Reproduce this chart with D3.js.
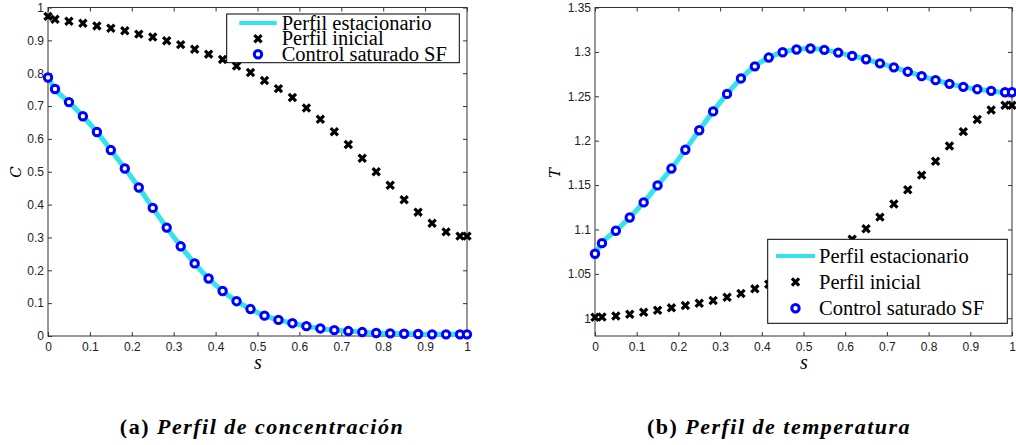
<!DOCTYPE html>
<html>
<head>
<meta charset="utf-8">
<script src="https://cdn.jsdelivr.net/npm/d3@7"></script>
<style>
body{margin:0;background:#fff;}
svg{display:block;}
.tick text{font-family:"Liberation Sans",Arial,sans-serif;font-size:12px;fill:#222;}
.tick line{stroke:#333;}
</style>
</head>
<body>
<svg id="chart" width="1016" height="445"></svg>
<script>
// abscissa s (cell centres plus both ends)
var sValues = [0, 0.0167, 0.05, 0.0833, 0.1167, 0.15, 0.1833, 0.2167, 0.25, 0.2833, 0.3167,
	0.35, 0.3833, 0.4167, 0.45, 0.4833, 0.5167, 0.55, 0.5833, 0.6167, 0.65, 0.6833,
	0.7167, 0.75, 0.7833, 0.8167, 0.85, 0.8833, 0.9167, 0.95, 0.9833, 1];

// concentration C(s)
var cStationary = [0.787, 0.752, 0.712, 0.669, 0.621, 0.566, 0.510, 0.452, 0.390, 0.330, 0.273,
	0.221, 0.175, 0.137, 0.106, 0.082, 0.062, 0.049, 0.039, 0.030, 0.023, 0.018,
	0.015, 0.012, 0.009, 0.008, 0.007, 0.006, 0.005, 0.005, 0.005, 0.005];
var cInitial = [0.973, 0.964, 0.958, 0.952, 0.944, 0.937, 0.929, 0.919, 0.910, 0.899, 0.887,
	0.873, 0.858, 0.842, 0.822, 0.802, 0.778, 0.753, 0.726, 0.694, 0.660, 0.622,
	0.583, 0.541, 0.500, 0.459, 0.415, 0.377, 0.343, 0.317, 0.304, 0.304];

// temperature T(s)
var tStationary = [1.0726, 1.0846, 1.0985, 1.1135, 1.1305, 1.1496, 1.1686, 1.1898, 1.2117, 1.2330, 1.2527,
	1.2701, 1.2837, 1.2936, 1.2996, 1.3027, 1.3038, 1.3023, 1.2992, 1.2955, 1.2917, 1.2871,
	1.2826, 1.2777, 1.2727, 1.2682, 1.2640, 1.2606, 1.2580, 1.2561, 1.2545, 1.2545];
var tInitial = [1.0011, 1.0015, 1.0026, 1.0045, 1.0068, 1.0090, 1.0117, 1.0143, 1.0169, 1.0199, 1.0237,
	1.0278, 1.0331, 1.0383, 1.0450, 1.0520, 1.0600, 1.0690, 1.0790, 1.0891, 1.1008, 1.1139,
	1.1286, 1.1447, 1.1612, 1.1769, 1.1939, 1.2102, 1.2239, 1.2345, 1.2398, 1.2398];

// ticks
var sTicks = [0, 0.1, 0.2, 0.3, 0.4, 0.5, 0.6, 0.7, 0.8, 0.9, 1],
	sTickLabels = ['0','0.1','0.2','0.3','0.4','0.5','0.6','0.7','0.8','0.9','1'];
var cTicks = [0, 0.1, 0.2, 0.3, 0.4, 0.5, 0.6, 0.7, 0.8, 0.9, 1],
	cTickLabels = ['0','0.1','0.2','0.3','0.4','0.5','0.6','0.7','0.8','0.9','1'];
var tTicks = [1, 1.05, 1.1, 1.15, 1.2, 1.25, 1.3, 1.35],
	tTickLabels = ['1','1.05','1.1','1.15','1.2','1.25','1.3','1.35'];

var legendLabels = ['Perfil estacionario', 'Perfil inicial', 'Control saturado SF'];

var CYAN = '#33e4e8', BLUE = '#0000ff';
var SERIF = '"Liberation Serif","Times New Roman",serif';
var XMARK = 'M-3.6,-3.6L3.6,3.6M-3.6,3.6L3.6,-3.6';

var svg = d3.select('#chart');

function drawPanel(o){
	var x = d3.scaleLinear().domain([0,1]).range([o.l, o.r]),
		y = d3.scaleLinear().domain(o.yDomain).range([o.b, o.t]);
	var g = svg.append('g');

	//axes with inward ticks on all four sides
	var fmtX = function(d,i){return sTickLabels[i]},
		fmtY = function(d,i){return o.yLabels[i]};
	g.append('g').attr('transform','translate(0,'+o.b+')')
		.call(d3.axisBottom(x).tickValues(sTicks).tickFormat(fmtX).tickSizeInner(-4).tickSizeOuter(0).tickPadding(6.5));
	g.append('g').attr('transform','translate(0,'+o.t+')')
		.call(d3.axisTop(x).tickValues(sTicks).tickFormat('').tickSizeInner(-4).tickSizeOuter(0));
	g.append('g').attr('transform','translate('+o.l+',0)')
		.call(d3.axisLeft(y).tickValues(o.yTicks).tickFormat(fmtY).tickSizeInner(-4).tickSizeOuter(0).tickPadding(4));
	g.append('g').attr('transform','translate('+o.r+',0)')
		.call(d3.axisRight(y).tickValues(o.yTicks).tickFormat('').tickSizeInner(-4).tickSizeOuter(0));
	g.selectAll('.domain').remove();
	g.append('rect')
		.attr('x',o.l).attr('y',o.t)
		.attr('width',o.r-o.l).attr('height',o.b-o.t)
		.attr('fill','none').attr('stroke','#333').attr('stroke-width',1);

	//stationary profile line
	var line = d3.line()
		.x(function(d,i){return x(sValues[i])})
		.y(function(d){return y(d)})
		.curve(d3.curveMonotoneX);
	g.append('path').datum(o.stationary)
		.attr('d',line)
		.attr('fill','none').attr('stroke',CYAN).attr('stroke-width',5);

	//initial profile (x markers)
	g.selectAll('.xmark').data(o.initial).enter()
		.append('path').attr('class','xmark')
		.attr('transform',function(d,i){return 'translate('+x(sValues[i])+','+y(d)+')'})
		.attr('d',XMARK)
		.attr('stroke','#000').attr('stroke-width',3.2);

	//saturated control (circles)
	g.selectAll('.omark').data(o.stationary).enter()
		.append('circle').attr('class','omark')
		.attr('cx',function(d,i){return x(sValues[i])})
		.attr('cy',function(d){return y(d)})
		.attr('r',3.7)
		.attr('fill','#fff').attr('stroke',BLUE).attr('stroke-width',3);

	//legend
	var lg = g.append('g').attr('class','legend');
	lg.append('rect')
		.attr('x',o.leg.x).attr('y',o.leg.y)
		.attr('width',o.leg.w).attr('height',o.leg.h)
		.attr('fill','#fff').attr('stroke','#000').attr('stroke-width',1);
	var rows = o.leg.rows;
	lg.append('line')
		.attr('x1',o.leg.sx0).attr('x2',o.leg.sx1)
		.attr('y1',rows[0]).attr('y2',rows[0])
		.attr('stroke',CYAN).attr('stroke-width',4);
	var mx = (o.leg.sx0 + o.leg.sx1)/2;
	lg.append('path')
		.attr('transform','translate('+mx+','+rows[1]+')')
		.attr('d',XMARK)
		.attr('stroke','#000').attr('stroke-width',3.2);
	lg.append('circle')
		.attr('cx',mx).attr('cy',rows[2]).attr('r',3.7)
		.attr('fill','#fff').attr('stroke',BLUE).attr('stroke-width',3);
	lg.selectAll('.lt').data(legendLabels).enter()
		.append('text').attr('class','lt')
		.attr('x',o.leg.tx)
		.attr('y',function(d,i){return rows[i] + o.leg.base})
		.style('font-family',SERIF).style('font-size','20.5px').style('fill','#000')
		.text(function(d){return d});

	//axis labels
	g.append('text')
		.attr('x',(o.l+o.r)/2 + 0.5).attr('y',369)
		.attr('text-anchor','middle')
		.style('font-family',SERIF).style('font-style','italic').style('font-size','20px')
		.text('s');
	g.append('text')
		.attr('transform','translate('+o.yl[0]+','+o.yl[1]+') rotate(-90)')
		.attr('text-anchor','middle')
		.style('font-family','"DejaVu Serif",serif').style('font-style','italic').style('font-size','15px')
		.text(o.yName);

	//caption
	var cap = g.append('text')
		.attr('x',o.cap).attr('y',434)
		.attr('text-anchor','middle')
		.style('font-family',SERIF).style('font-weight','bold').style('font-size','22px')
		.style('letter-spacing','1.5px');
	cap.append('tspan').text(o.capTag + ' ');
	cap.append('tspan').style('font-style','italic').text(o.capText);
}

drawPanel({
	l:48, r:467, t:7.5, b:336,
	yDomain:[0,1], yTicks:cTicks, yLabels:cTickLabels,
	stationary:cStationary, initial:cInitial,
	leg:{x:226.7, y:14, w:232.6, h:48.7, rows:[23,38.7,54.3], sx0:239.3, sx1:276.7, tx:281.7, base:6.6},
	yl:[21,172], yName:'C',
	cap:262, capTag:'(a)', capText:'Perfil de concentración'
});

drawPanel({
	l:595, r:1012, t:7.5, b:336,
	yDomain:[0.98,1.35], yTicks:tTicks, yLabels:tTickLabels,
	stationary:tStationary, initial:tInitial,
	leg:{x:767.7, y:239.3, w:239.6, h:84, rows:[256,282,308.3], sx0:776, sx1:815, tx:819, base:6.7},
	yl:[560,173], yName:'T',
	cap:779, capTag:'(b)', capText:'Perfil de temperatura'
});
</script>
</body>
</html>
